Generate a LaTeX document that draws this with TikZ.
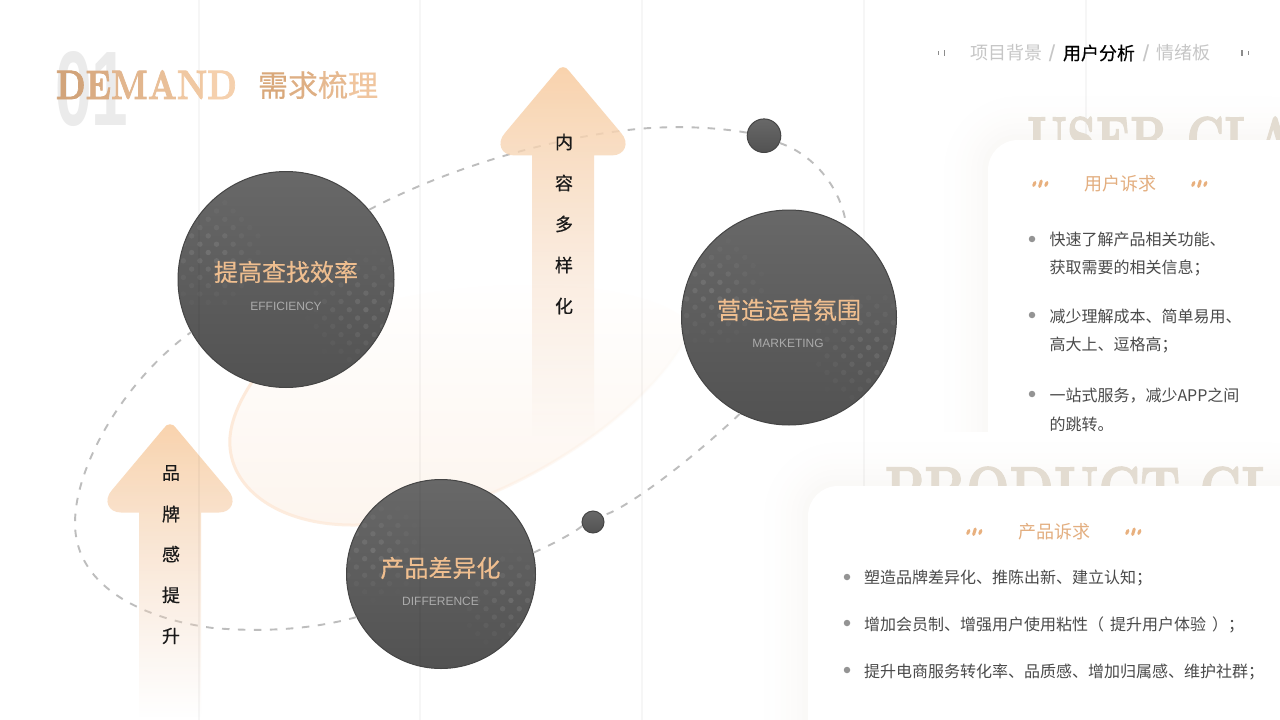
\documentclass[tikz,border=0pt]{standalone}
\usepackage{fontspec}
\usepackage{graphicx}
\setmainfont{Noto Sans CJK SC}
\newfontfamily\cjkmed{Noto Sans CJK SC}[FakeBold=0.35]
\newfontfamily\lsans{Liberation Sans}
\newfontfamily\lmbx{lmroman10-bold}[Extension=.otf,FakeBold=2]
\usetikzlibrary{fadings}
\newcommand{\fsz}[1]{\fontsize{#1}{#1}\selectfont}
\definecolor{gridc}{HTML}{000000}
\definecolor{shadowc}{HTML}{FAF9F7}
\definecolor{ghost}{HTML}{E3DCD1}
\definecolor{listc}{HTML}{4A4A4A}
\definecolor{navc}{HTML}{C6C6C6}
\definecolor{dashc}{HTML}{BDBDBD}
\definecolor{ringtop}{HTML}{686868}
\definecolor{ringbot}{HTML}{525252}
\definecolor{ringedge}{HTML}{454545}
\definecolor{gold}{HTML}{EFBE8F}
\definecolor{subc}{HTML}{ABABAB}
\definecolor{arrowtop}{HTML}{F9D3AD}
\definecolor{arrowbot}{HTML}{F2D8C4}
\definecolor{blobc}{HTML}{FDF5EE}
\definecolor{blobedge}{HTML}{FDEADA}
\definecolor{quotec}{HTML}{E8B07E}
\definecolor{numc}{HTML}{EBEBEB}
\definecolor{hd}{HTML}{E3AE7F}
\tikzfading[name=arrowfade, top color=transparent!0, middle color=transparent!10, bottom color=transparent!100]
\tikzfading[name=edgefade, left color=transparent!0, middle color=transparent!25, right color=transparent!100]
\tikzset{
  tx/.style={inner sep=0pt, outer sep=0pt},
  ring/.style={circle, inner sep=0pt, draw=ringedge, line width=1pt, top color=ringtop, bottom color=ringbot},
  orbit/.style={draw=dashc, line width=1.9pt, dash pattern=on 7.5pt off 8.5pt},
  gridline/.style={draw=gridc, draw opacity=0.035, line width=1.5pt},
  listtx/.style={tx, anchor=west, text=listc, font=\fsz{16}},
  ringtx/.style={tx, text=gold, font=\cjkmed\fsz{24}},
  subtx/.style={tx, text=subc, font=\lsans\fsz{12}},
  arrowtx/.style={tx, text=black!90, font=\cjkmed\fsz{18}},
  bullet/.style={circle, fill=black!42, inner sep=0pt, minimum size=6.5pt},
  hdtx/.style={tx, text=hd, font=\fsz{18}},
}
\newcommand{\shadowcard}[2]{%
  \foreach \k in {10,...,1}{%
    \pgfmathsetmacro{\pc}{int(100*((11-\k)/10)^2)}%
    \pgfmathsetmacro{\ex}{5.4*\k}%
    \fill[shadowc!\pc!white, rounded corners={30pt+\ex pt}] (#1-\ex,#2-\ex) rectangle (1340,800);
  }}
\newcommand{\quotemark}[2]{%
  \draw[quotec, line width=3pt, line cap=round] (#1+3,#2-1.5) -- (#1+1.6,#2+1.5);
  \draw[quotec, line width=3pt, line cap=round] (#1+9.3,#2-3) -- (#1+7.6,#2+2.5);
  \draw[quotec, line width=3pt, line cap=round] (#1+15,#2-1.5) -- (#1+13.7,#2+1.5);}
\newcommand{\arrowshape}[3]{%
  \path[shift={(#1,#2)}, top color=arrowtop, bottom color=arrowbot, path fading=arrowfade]
   (-6,5) .. controls (-3,0) and (3,0) .. (6,5) -- (58,67) .. controls (67,77) and (62,89.5) .. (49,89.5)
   -- (31,89.5) -- (31,#3) -- (-31,#3) -- (-31,89.5) -- (-49,89.5)
   .. controls (-62,89.5) and (-67,77) .. (-58,67) -- cycle;}
\newcommand{\dotsgroup}[3]{%
  \foreach \i in {-6,...,6}{\foreach \j in {-6,...,6}{%
    \pgfmathsetmacro{\uu}{8.3*(\i-\j)}%
    \pgfmathsetmacro{\vv}{8.3*(\i+\j)}%
    \pgfmathsetmacro{\dd}{veclen(\uu,\vv)/(#3)}%
    \pgfmathsetmacro{\op}{0.11*(1-\dd)}%
    \pgfmathparse{\op>0.01?1:0}%
    \ifdim\pgfmathresult pt>0.5pt
      \fill[white, opacity=\op] ({#1+\uu},{#2+\vv}) circle (2.7);
    \fi
  }}}
\newcommand{\halftone}[3]{%
  \begin{scope}
    \clip (#1,#2) circle (#3-0.6);
    \dotsgroup{#1-0.72*#3}{#2-0.25*#3}{0.58*#3}
    \dotsgroup{#1+0.74*#3}{#2+0.28*#3}{0.60*#3}
  \end{scope}}
\begin{document}
\begin{tikzpicture}[x=1pt,y=-1pt]
\clip (0,0) rectangle (1280,720);
\fill[white] (0,0) rectangle (1280,720);

% user card
\shadowcard{988}{140}
\draw[gridline] (1086,0) -- (1086,145);
\node[tx, anchor=base west, text=ghost] (ghostuser) at (1027,160) {\scalebox{0.73}[1]{\lmbx\fsz{62}USER CLA}};
\fill[white, rounded corners=30pt] (988,140) rectangle (1340,800);
\node[hdtx] (hduser) at (1120,184) {用户诉求};
\quotemark{1032}{184}
\quotemark{1191}{184}
\node[bullet] (ub1) at (1032,239) {};
\node[bullet] (ub2) at (1032,315) {};
\node[bullet] (ub3) at (1032,394) {};
\node[listtx] (u1a) at (1049.5,239.5) {快速了解产品相关功能、};
\node[listtx] (u1b) at (1049.5,268) {获取需要的相关信息；};
\node[listtx] (u2a) at (1049.5,316.5) {减少理解成本、简单易用、};
\node[listtx] (u2b) at (1049.5,345) {高大上、逗格高；};
\node[listtx] (u3a) at (1049.5,395.5) {一站式服务，减少APP之间};
\node[listtx] (u3b) at (1049.5,424) {的跳转。};

% product card
\shadowcard{808}{486}
\draw[gridline] (864,0) -- (864,490);
\node[tx, anchor=base west, text=ghost] (ghostprod) at (885,510) {\scalebox{0.81}[1]{\lmbx\fsz{62}PRODUCT CLA}};
\fill[white, rounded corners=30pt] (808,486) rectangle (1340,800);
\node[hdtx] (hdprod) at (1054,532) {产品诉求};
\quotemark{966}{532}
\quotemark{1125}{532}
\node[bullet] (pb1) at (847,577) {};
\node[bullet] (pb2) at (847,623) {};
\node[bullet] (pb3) at (847,670) {};
\node[listtx] (p1) at (864,578) {塑造品牌差异化、推陈出新、建立认知；};
\node[listtx] (p2) at (864,624.5) {增加会员制、增强用户使用粘性（\hspace{6pt}提升用户体验\hspace{6pt}）；};
\node[listtx] (p3) at (864,672) {提升电商服务转化率、品质感、增加归属感、维护社群；};

% blob
\path[top color=white, bottom color=blobc]
  (230,445) .. controls (228,410) and (262,355) .. (330,320)
  .. controls (430,275) and (640,270) .. (692,325)
  .. controls (660,410) and (490,525) .. (353,525)
  .. controls (280,525) and (232,490) .. (230,445) -- cycle;
\path[draw=blobedge, line width=3pt, line cap=round, path fading=edgefade]
  (692,325) .. controls (660,410) and (490,525) .. (353,525)
  .. controls (280,525) and (232,490) .. (230,445)
  .. controls (229,425) and (238,400) .. (262,368);

% circles as nodes
\node[ring, minimum size=216pt] (eff) at (286,279.5) {};
\node[ring, minimum size=215pt] (mkt) at (789,317.5) {};
\node[ring, minimum size=189pt] (diff) at (441,574) {};
\node[ring, minimum size=33.6pt] (dotA) at (764,135.7) {};
\node[ring, minimum size=22pt] (dotB) at (593,522) {};

% orbit
\draw[orbit] (eff.40) .. controls (440,172) and (540,140) .. (628,130)
   .. controls (670,125) and (715,127) .. (dotA.170);
\draw[orbit] (dotA.-25) .. controls (815,155) and (842,190) .. (mkt.58);
\draw[orbit] (mkt.243) .. controls (680,470) and (620,512) .. (dotB.35);
\draw[orbit] (dotB.200) .. controls (575,532) and (555,543) .. (diff.13);
\draw[orbit] (diff.207) .. controls (310,630) and (260,632) .. (213,628)
   .. controls (150,620) and (75,590) .. (75,523)
   .. controls (75,465) and (125,380) .. (eff.209);

\halftone{286}{279.5}{108}
\halftone{789}{317.5}{107.5}
\halftone{441}{574}{94.5}

\node[ringtx] (effcn) at (286,272) {提高查找效率};
\node[subtx] (effen) at (286,306.5) {EFFICIENCY};
\node[ringtx] (mktcn) at (789,310) {营造运营氛围};
\node[subtx] (mkten) at (788,343.5) {MARKETING};
\node[ringtx] (diffcn) at (440.5,568) {产品差异化};
\node[subtx] (diffen) at (440.5,601.5) {DIFFERENCE};

% arrows
\arrowshape{563}{66}{370}
\arrowshape{170}{423}{294}
\node[arrowtx] (a1) at (564,142) {内};
\node[arrowtx] (a2) at (564,183) {容};
\node[arrowtx] (a3) at (564,224) {多};
\node[arrowtx] (a4) at (564,265) {样};
\node[arrowtx] (a5) at (564,306) {化};
\node[arrowtx] (b1) at (171,473) {品};
\node[arrowtx] (b2) at (171,514) {牌};
\node[arrowtx] (b3) at (171,554) {感};
\node[arrowtx] (b4) at (171,595) {提};
\node[arrowtx] (b5) at (171,636) {升};

% grid lines on top
\draw[gridline] (199,0) -- (199,720);
\draw[gridline] (420,0) -- (420,720);
\draw[gridline] (642,0) -- (642,720);

% title
\node[tx, anchor=base west, text=numc] (num) at (55,125) {\scalebox{0.62}[1]{\lsans\bfseries\fsz{106}01}};
\node[tx, anchor=base west] (demand) at (56,99) {\scalebox{0.82}[1]{\lmbx\fsz{41}\textcolor[HTML]{D2A47A}{D}\textcolor[HTML]{DAAC83}{E}\textcolor[HTML]{E2B68E}{M}\textcolor[HTML]{E9BF98}{A}\textcolor[HTML]{F0C8A2}{N}\textcolor[HTML]{F5D0AD}{D}}};
\node[tx, anchor=west] (titlecn) at (258,85) {\cjkmed\fsz{30}\textcolor[HTML]{D9A87A}{需}\textcolor[HTML]{DEAF84}{求}\textcolor[HTML]{E6B990}{梳}\textcolor[HTML]{F0C59E}{理}};

% nav
\node[tx, anchor=west, text=navc, font=\fsz{18}] (nav1) at (970,53) {项目背景};
\node[tx, anchor=center, text=navc, font=\lsans\fsz{23}] (sl1) at (1052,53) {/};
\node[tx, anchor=west, text=black, font=\cjkmed\fsz{18}] (nav2) at (1063,53) {用户分析};
\node[tx, anchor=center, text=navc, font=\lsans\fsz{23}] (sl2) at (1146,53) {/};
\node[tx, anchor=west, text=navc, font=\fsz{18}] (nav3) at (1156.5,53) {情绪板};
\fill[black!45] (937.5,51) rectangle (939,55);
\fill[black!45] (943.5,50) rectangle (945,56);
\fill[black!45] (1241,50) rectangle (1243,56);
\fill[black!45] (1247.5,51) rectangle (1249,55);
\end{tikzpicture}
\end{document}
